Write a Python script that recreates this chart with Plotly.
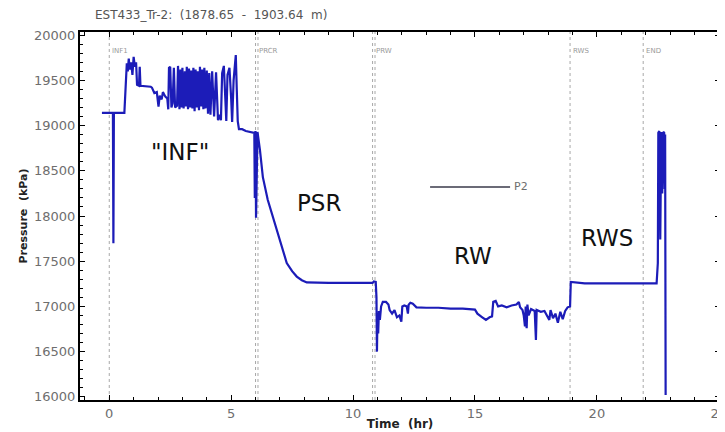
import plotly.graph_objects as go

# ── data (time in hr, pressure in kPa) ───────────────────────────────────────
TIME_HR = [
    # pre-test + INF
    -0.3, 0.15, 0.17, 0.19, 0.62, 0.66, 0.72, 0.76, 0.8, 0.84, 0.9, 0.95,
    1.0, 1.05, 1.1, 1.14, 1.22, 1.25, 1.28, 1.7, 1.75, 1.85, 1.95, 2.02,
    2.07, 2.15, 2.2, 2.3, 2.38, 2.42, 2.45, 2.5, 2.55, 2.6, 2.65, 2.7,
    2.78, 2.82, 2.88, 2.92, 2.97, 3.0, 3.05, 3.1, 3.14, 3.18, 3.23, 3.27,
    3.32, 3.36, 3.41, 3.45, 3.5, 3.54, 3.59, 3.63, 3.68, 3.72, 3.77, 3.81,
    3.86, 3.9, 3.95, 4.0, 4.05, 4.1, 4.15, 4.22, 4.3, 4.38, 4.46, 4.52,
    4.58, 4.63, 4.7, 4.76, 4.8, 4.85, 4.93, 5.0, 5.04, 5.1, 5.16, 5.19,
    5.23, 5.27, 5.32, 5.45, 5.6, 5.85, 5.95, 5.97, 5.98, 6.0, 6.02, 6.04,
    6.06,
    # PSR
    6.08, 6.18, 6.3, 6.5, 6.71, 7.0, 7.28, 7.5, 7.69, 7.9, 8.1, 9.0, 10.0,
    10.8, 10.85,
    # RW
    10.93, 10.96, 10.98, 11.0, 11.03, 11.06, 11.1, 11.15, 11.22, 11.35,
    11.45, 11.5, 11.6, 11.7, 11.8, 11.9, 11.98, 12.02, 12.1, 12.2, 12.25,
    12.28, 12.35, 12.45, 12.6, 13.0, 13.5, 14.0, 14.5, 15.0, 15.1, 15.3,
    15.45, 15.6, 15.7, 15.75, 15.85, 15.95, 16.1, 16.3, 16.5, 16.7, 16.8,
    16.85, 16.95, 17.0, 17.05, 17.08, 17.12, 17.15, 17.2, 17.3, 17.45,
    17.5, 17.53, 17.7, 17.85, 17.95, 18.05, 18.1, 18.2, 18.3, 18.4, 18.5,
    18.6, 18.7, 18.8, 18.9, 18.93,
    # RWS + end
    19.5, 20.5, 21.5, 22.45, 22.5, 22.52, 22.56, 22.6, 22.64, 22.68, 22.72,
    22.76, 22.78, 22.8, 22.82,
]
PRESSURE_KPA = [
    19140, 19140, 17700, 19140, 19140, 19400, 19690, 19600, 19740, 19620, 19700, 19560,
    19760, 19650, 19700, 19450, 19440, 19650, 19440, 19430, 19420, 19360, 19370, 19210,
    19330, 19290, 19370, 19320, 19300, 19180, 19640, 19650, 19200, 19250, 19640, 19200,
    19220, 19660, 19180, 19620, 19200, 19640, 19190, 19600, 19210, 19650, 19180, 19630,
    19200, 19610, 19190, 19640, 19160, 19620, 19200, 19600, 19170, 19650, 19210, 19620,
    19180, 19640, 19190, 19610, 19130, 19580, 19120, 19600, 19100, 19590, 19060, 19120,
    19060, 19580, 19660, 19300, 19050, 19560, 19640, 19300, 19040, 19500, 19690, 19780,
    19400, 19050, 18960, 18960, 18940, 18930, 18920, 18200, 18930, 18940, 17980, 18600,
    18900,
    18930, 18730, 18430, 18180, 17990, 17735, 17480, 17390, 17330, 17290, 17265, 17260, 17260,
    17260, 17275,
    17270, 17100, 16500, 16880, 16700, 16950, 16850, 17000, 17050, 17050,
    17020, 16960, 16920, 16960, 16880, 16900, 16830, 17000, 17010, 17000, 16920,
    17020, 17040, 17030, 16990, 16985, 16985, 16975, 16975, 16965, 16920, 16880,
    16850, 16880, 16890, 17050, 17060, 17000, 17010, 16990, 17010, 17020, 17050,
    16990, 16960, 16900, 16780, 17000, 16760, 17020, 16900, 16970, 16950,
    16630, 16960, 16940, 16950, 16900, 16850, 16960, 16870, 16920, 16820, 16940,
    16860, 16950, 16990, 17000, 17270,
    17255, 17255, 17255, 17255, 17480, 18920, 18940, 17740, 18930, 18250, 18930,
    18920, 18300, 18900, 16020,
]

EVENT_TIMES = [0.0, 6.0, 6.1, 10.8, 10.9, 18.9, 21.9]
EVENT_LABELS = ["INF1", "PRCR", "", "PRW", "", "RWS", "END"]

PHASE_NAMES = ['"INF"', "PSR", "RW", "RWS"]
PHASE_T = [2.9, 8.6, 14.9, 20.4]
PHASE_P = [18710, 18140, 17560, 17760]

FONT = "DejaVu Sans"
GREY = "#6e6e6e"

fig = go.Figure()
fig.add_trace(go.Scatter(
    x=TIME_HR, y=PRESSURE_KPA, mode="lines",
    line=dict(color="#1c1cb8", width=2.2),
    name="P2", showlegend=False,
))

# event markers (dotted verticals + tiny labels)
for t, lab in zip(EVENT_TIMES, EVENT_LABELS):
    fig.add_shape(type="line", x0=t, x1=t, xref="x", y0=0, y1=1, yref="paper",
                  line=dict(color="#a8a8a8", width=1, dash="dot"), layer="below")
    if lab:
        fig.add_annotation(x=t, y=0.965, xref="x", yref="paper", text=lab,
                           showarrow=False, xanchor="left", xshift=1,
                           font=dict(family=FONT, size=7, color="#9a9a9a"))

# phase names
for name, t, p in zip(PHASE_NAMES, PHASE_T, PHASE_P):
    fig.add_annotation(x=t, y=p, text=name, showarrow=False,
                       font=dict(family=FONT, size=23, color="#111111"))

# hand-drawn legend in the middle of the plot
fig.add_shape(type="line", xref="paper", yref="paper",
              x0=0.547, x1=0.672, y0=0.579, y1=0.579,
              line=dict(color="#3a3a4a", width=1.5))
fig.add_annotation(xref="paper", yref="paper", x=0.675, y=0.579, text="P2",
                   showarrow=False, xanchor="left",
                   font=dict(family=FONT, size=11, color=GREY))

axis_common = dict(
    showline=True, linecolor="black", linewidth=2, mirror="ticks",
    ticks="inside", ticklen=5, tickcolor="black", tickwidth=1,
    showgrid=False, zeroline=False, automargin=False,
    tickfont=dict(family=FONT, size=13, color=GREY),
)
fig.update_xaxes(
    range=[-1.2, 25.05], tick0=0, dtick=5, tickformat="d",
    minor=dict(ticks="inside", ticklen=3, dtick=1, tickcolor="black"),
    title=dict(text="<b>Time  (hr)</b>", standoff=0,
               font=dict(family=FONT, size=12, color="#222222")),
    **axis_common,
)
fig.update_yaxes(
    range=[15965, 20035], tick0=16000, dtick=500, tickformat="d",
    minor=dict(ticks="inside", ticklen=3, dtick=100, tickcolor="black"),
    title=dict(text="<b>Pressure  (kPa)</b>", standoff=4,
               font=dict(family=FONT, size=11, color="#222222")),
    **axis_common,
)

# the page body adds an 8px offset, so margins are shifted to compensate
fig.update_layout(
    width=725, height=432,
    margin=dict(l=72, r=13, t=24, b=40),
    paper_bgcolor="white", plot_bgcolor="white",
    title=dict(text="EST433_Tr-2:  (1878.65  -  1903.64  m)",
               x=87 / 725, xanchor="left", y=0.985, yanchor="middle",
               font=dict(family=FONT, size=12, color="#555555")),
    showlegend=False,
)

fig.write_html("out.html")
